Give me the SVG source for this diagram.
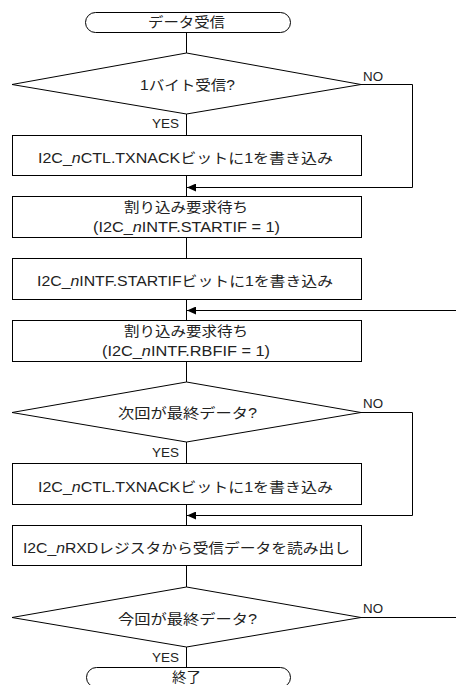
<svg xmlns="http://www.w3.org/2000/svg" width="456" height="685" viewBox="0 0 456 685">
<style>
.s{fill:#fff;stroke:#000;stroke-width:1}
.t{font-family:"Liberation Sans","Noto Sans CJK JP",sans-serif;font-size:14px;fill:#222;text-anchor:middle}
.l{font-family:"Liberation Sans","Noto Sans CJK JP",sans-serif;font-size:13px;fill:#222}
.c{fill:none;stroke:#000;stroke-width:1}
</style>
<defs>
<marker id="ah" markerWidth="9" markerHeight="8" refX="9" refY="4" orient="auto" markerUnits="userSpaceOnUse">
<path d="M0,0 L9,4 L0,8 Z" fill="#000"/>
</marker>
</defs>
<rect width="456" height="685" fill="#fff"/>
<g id="connectors">
<path class="c" d="M186.5,32 V53 M186.5,114 V135 M186.5,175 V196 M186.5,237 V258 M186.5,299 V320 M186.5,361 V382 M186.5,442 V463 M186.5,505 V525 M186.5,565 V587 M186.5,647 V667"/>
<path class="c" d="M361,84.5 H412.5 V187.5 H187" marker-end="url(#ah)"/>
<path class="c" d="M456,310.5 H187" marker-end="url(#ah)"/>
<path class="c" d="M361,412.5 H412.5 V515.5 H187" marker-end="url(#ah)"/>
<path class="c" d="M361,617.5 H456"/>
<text class="l" x="363" y="81" textLength="20" lengthAdjust="spacingAndGlyphs">NO</text>
<text class="l" x="152" y="128" textLength="27" lengthAdjust="spacingAndGlyphs">YES</text>
<text class="l" x="363" y="408" textLength="20" lengthAdjust="spacingAndGlyphs">NO</text>
<text class="l" x="152" y="457" textLength="27" lengthAdjust="spacingAndGlyphs">YES</text>
<text class="l" x="363" y="613" textLength="20" lengthAdjust="spacingAndGlyphs">NO</text>
<text class="l" x="152" y="662" textLength="27" lengthAdjust="spacingAndGlyphs">YES</text>
</g>
<g id="start">
<rect class="s" x="85.5" y="12.5" width="205" height="20" rx="10" ry="10"/>
<text class="t" x="186.5" y="27" textLength="77" lengthAdjust="spacingAndGlyphs">データ受信</text>
</g>
<g id="dec1">
<polygon class="s" points="12,84.5 186.5,53 361,84.5 186.5,114"/>
<text class="t" x="187.5" y="90" textLength="95" lengthAdjust="spacingAndGlyphs">1バイト受信?</text>
</g>
<g id="box1">
<rect class="s" x="12.5" y="135.5" width="349" height="40"/>
<text class="t" x="185.5" y="163" textLength="295" lengthAdjust="spacingAndGlyphs">I2C_<tspan font-style="italic">n</tspan>CTL.TXNACKビットに1を書き込み</text>
</g>
<g id="box2">
<rect class="s" x="12.5" y="196.5" width="349" height="41"/>
<text class="t" x="186" y="212" textLength="124" lengthAdjust="spacingAndGlyphs">割り込み要求待ち</text>
<text class="t" x="186.5" y="232" textLength="187" lengthAdjust="spacingAndGlyphs">(I2C_<tspan font-style="italic">n</tspan>INTF.STARTIF = 1)</text>
</g>
<g id="box3">
<rect class="s" x="12.5" y="258.5" width="349" height="41"/>
<text class="t" x="185" y="286" textLength="296" lengthAdjust="spacingAndGlyphs">I2C_<tspan font-style="italic">n</tspan>INTF.STARTIFビットに1を書き込み</text>
</g>
<g id="box4">
<rect class="s" x="12.5" y="320.5" width="349" height="41"/>
<text class="t" x="186" y="336" textLength="124" lengthAdjust="spacingAndGlyphs">割り込み要求待ち</text>
<text class="t" x="186" y="356" textLength="168" lengthAdjust="spacingAndGlyphs">(I2C_<tspan font-style="italic">n</tspan>INTF.RBFIF = 1)</text>
</g>
<g id="dec2">
<polygon class="s" points="12,412.5 186.5,382 361,412.5 186.5,442"/>
<text class="t" x="187.5" y="418" textLength="139" lengthAdjust="spacingAndGlyphs">次回が最終データ?</text>
</g>
<g id="box5">
<rect class="s" x="12.5" y="463.5" width="349" height="41"/>
<text class="t" x="185.5" y="492" textLength="295" lengthAdjust="spacingAndGlyphs">I2C_<tspan font-style="italic">n</tspan>CTL.TXNACKビットに1を書き込み</text>
</g>
<g id="box6">
<rect class="s" x="12.5" y="525.5" width="349" height="40"/>
<text class="t" x="186.5" y="553" textLength="327" lengthAdjust="spacingAndGlyphs">I2C_<tspan font-style="italic">n</tspan>RXDレジスタから受信データを読み出し</text>
</g>
<g id="dec3">
<polygon class="s" points="12,617.5 186.5,587 361,617.5 186.5,647"/>
<text class="t" x="187.5" y="624" textLength="139" lengthAdjust="spacingAndGlyphs">今回が最終データ?</text>
</g>
<g id="end">
<rect class="s" x="86.5" y="667.5" width="204" height="20" rx="10" ry="10"/>
<text class="t" x="186.5" y="682" textLength="29" lengthAdjust="spacingAndGlyphs">終了</text>
</g>
</svg>
